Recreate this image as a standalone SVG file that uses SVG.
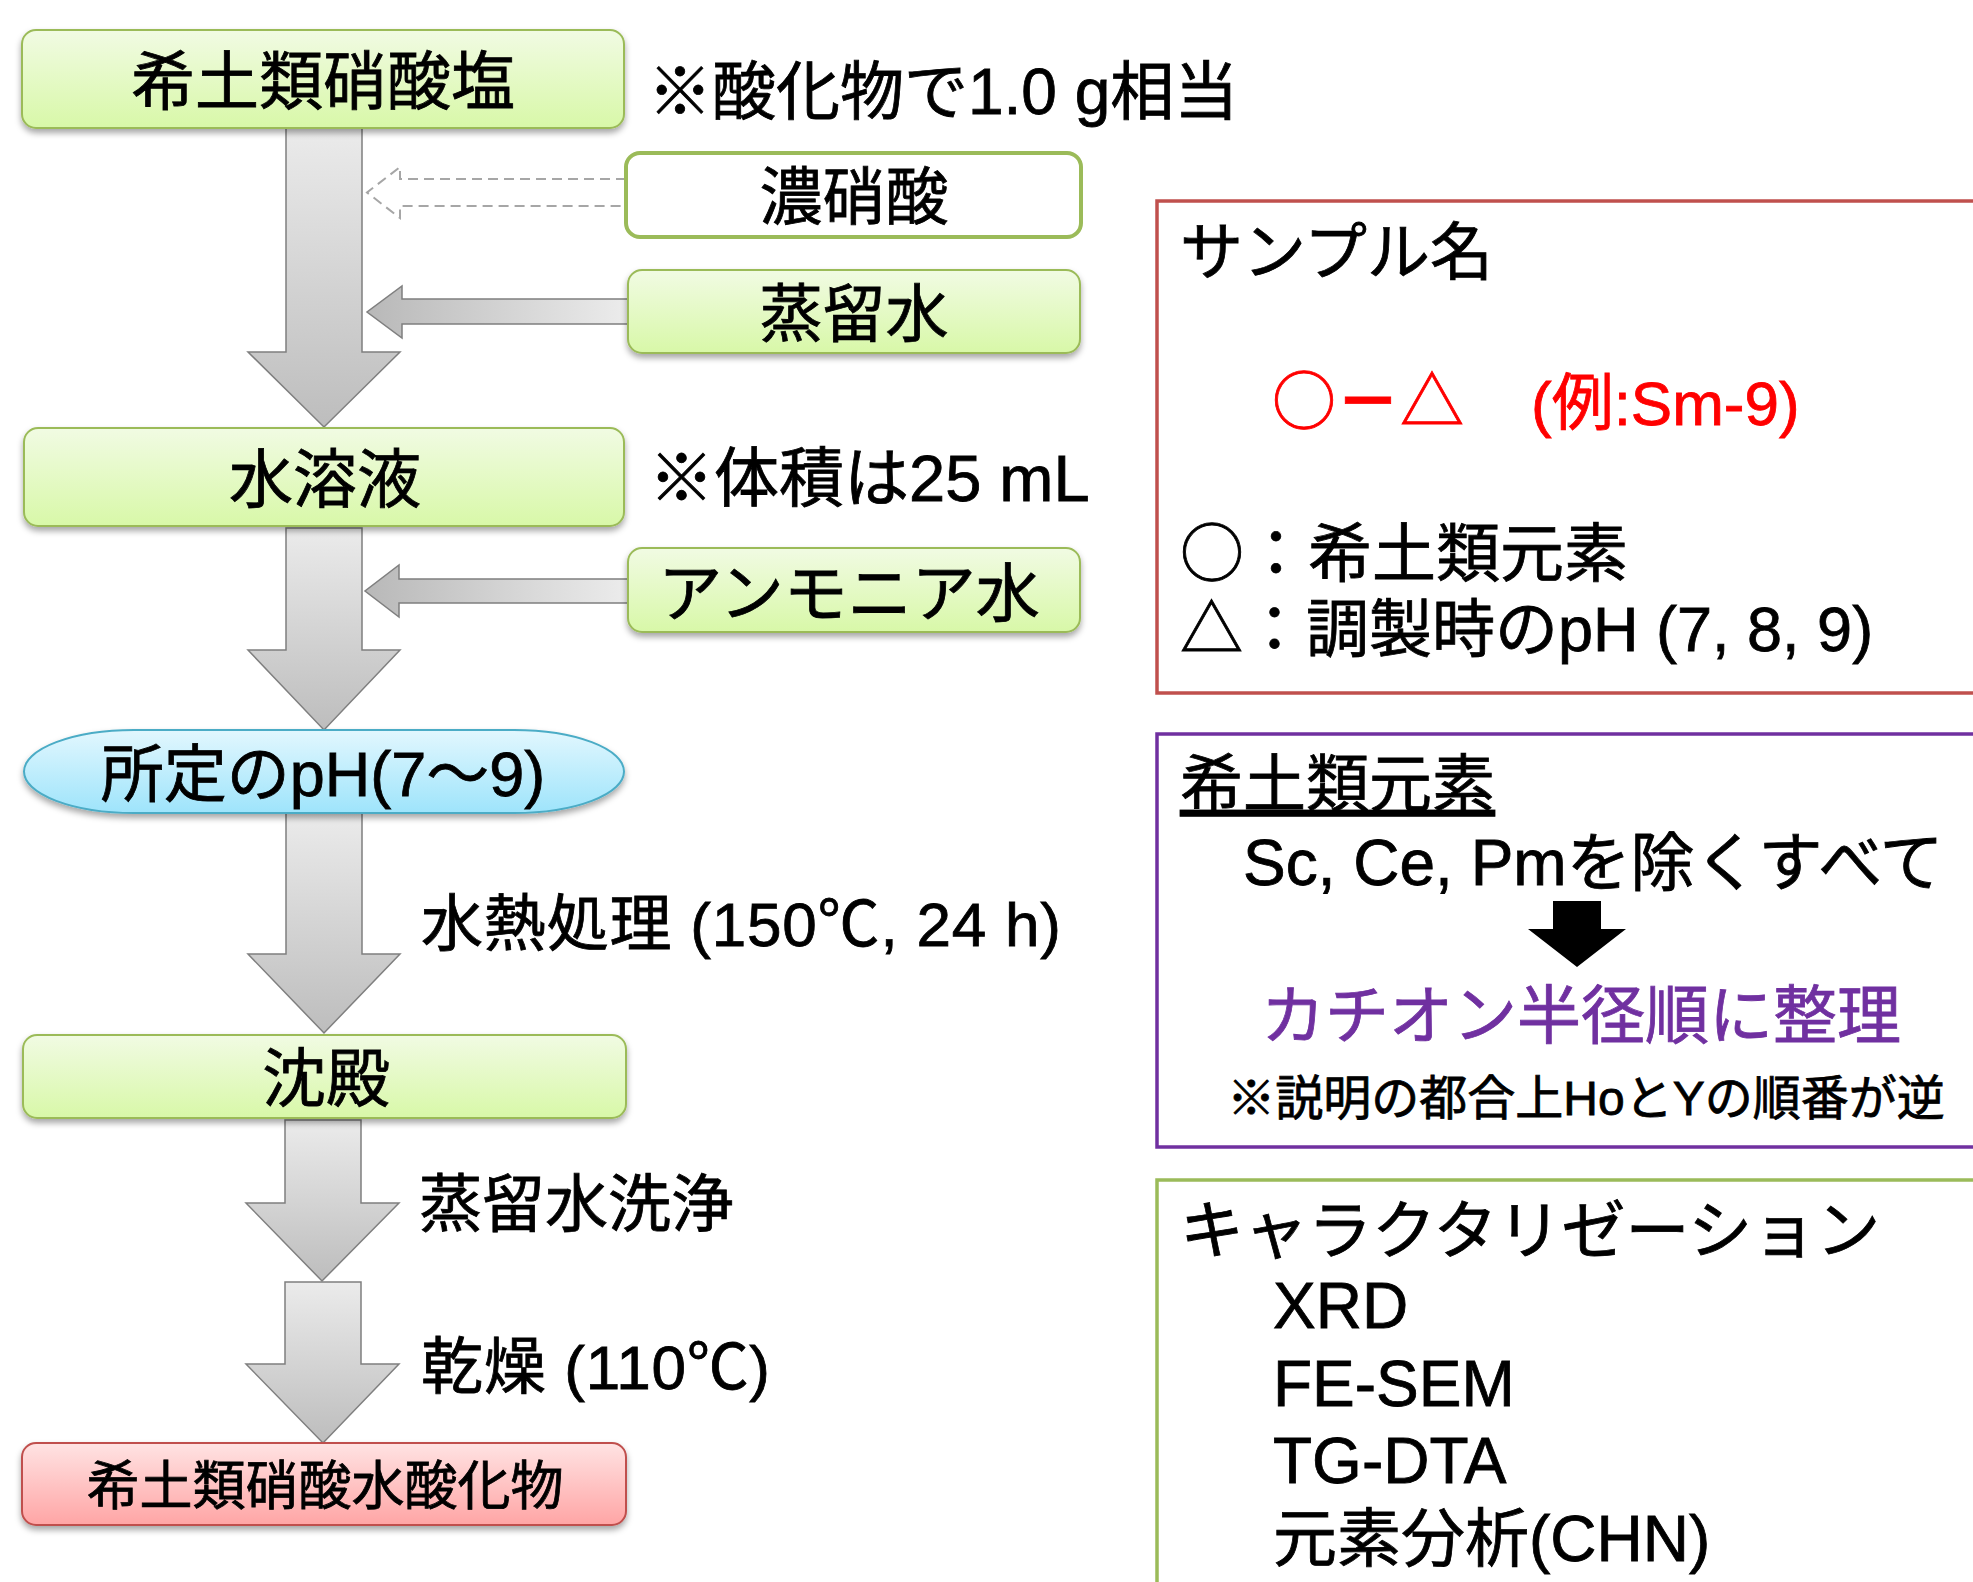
<svg xmlns="http://www.w3.org/2000/svg" width="1973" height="1582" viewBox="0 0 1973 1582">
<defs>
<linearGradient id="gGreen" x1="0" y1="0" x2="0" y2="1"><stop offset="0" stop-color="#f1fbe3"/><stop offset="1" stop-color="#d8f8a8"/></linearGradient>
<linearGradient id="gRed" x1="0" y1="0" x2="0" y2="1"><stop offset="0" stop-color="#ffe3e3"/><stop offset="1" stop-color="#ffa5a5"/></linearGradient>
<linearGradient id="gBlue" x1="0" y1="0" x2="0" y2="1"><stop offset="0" stop-color="#e2f7fe"/><stop offset="1" stop-color="#9ee4fb"/></linearGradient>
<linearGradient id="gDown" x1="0" y1="0" x2="0" y2="1"><stop offset="0" stop-color="#ebebeb"/><stop offset="1" stop-color="#bdbdbd"/></linearGradient>
<linearGradient id="gLeft" x1="0" y1="0" x2="1" y2="0"><stop offset="0" stop-color="#b8b8b8"/><stop offset="1" stop-color="#ececec"/></linearGradient>
<filter id="sh" x="-5%" y="-20%" width="110%" height="150%"><feDropShadow dx="0" dy="4" stdDeviation="3" flood-color="#000" flood-opacity="0.35"/></filter>
</defs>
<style>
text{font-family:"Liberation Sans","Noto Sans CJK JP",sans-serif;fill:#000;stroke:#000;stroke-width:0.8}
.cjk{font-family:"Noto Sans CJK JP",sans-serif}
.red{fill:#ff0000;stroke:#ff0000}
.pur{fill:#7030a0;stroke:#7030a0}
.box{fill:url(#gGreen);stroke:#9bbb59;stroke-width:2}
.c{text-anchor:middle}
.arr{fill:url(#gDown);stroke:#7f7f7f;stroke-width:1.5}
.harr{fill:url(#gLeft);stroke:#7f7f7f;stroke-width:1.5}
.panel{fill:none;stroke-width:3.5}
</style>
<rect width="1973" height="1582" fill="#fff"/>

<g id="connectors">
<path class="arr" d="M286,128 H362 V352 H400 L324,427 L248,352 H286 Z"/>
<path class="arr" d="M286,528 H362 V650 H400 L324,730 L248,650 H286 Z"/>
<path class="arr" d="M286,813 H362 V954 H400 L324,1033 L248,954 H286 Z"/>
<path class="arr" d="M285,1120 H361 V1203 H399 L322,1281 L246,1203 H285 Z"/>
<path class="arr" d="M285,1282 H361 V1364 H399 L323,1443 L246,1364 H285 Z"/>
<path d="M626,179 H400 V167 L367,192.5 L400,218 V206 H626" fill="#fff" stroke="#a6a6a6" stroke-width="2" stroke-dasharray="10,6"/>
<path class="harr" d="M628,299 H402 V286 L367,312 L402,338 V324 H628 Z"/>
<path class="harr" d="M628,579 H399 V565 L365,591 L399,617 V603 H628 Z"/>
</g>

<g id="node-nitrate">
<rect class="box" x="22" y="30" width="602" height="98" rx="14" filter="url(#sh)"/>
<text class="c" x="323" y="104" font-size="64">希土類硝酸塩</text>
</g>
<g id="note-oxide">
<text x="648" y="114" font-size="64">※酸化物で1.0 g相当</text>
</g>
<g id="node-conc-nitric">
<rect x="626" y="153" width="455" height="84" rx="14" fill="#fff" stroke="#9bbb59" stroke-width="4"/>
<text class="c" x="854" y="219" font-size="63">濃硝酸</text>
</g>
<g id="node-water1">
<rect class="box" x="628" y="270" width="452" height="83" rx="14" filter="url(#sh)"/>
<text class="c" x="854" y="336" font-size="63">蒸留水</text>
</g>
<g id="node-solution">
<rect class="box" x="24" y="428" width="600" height="98" rx="14" filter="url(#sh)"/>
<text class="c" x="325" y="502" font-size="64">水溶液</text>
</g>
<g id="note-volume">
<text x="649" y="501" font-size="65">※体積は25 mL</text>
</g>
<g id="node-ammonia">
<rect class="box" x="628" y="548" width="452" height="84" rx="14" filter="url(#sh)"/>
<text class="c" x="849" y="616" font-size="64">アンモニア水</text>
</g>
<g id="node-ph">
<rect x="24" y="730" width="600" height="83" rx="110" ry="41.5" fill="url(#gBlue)" stroke="#4bacc6" stroke-width="2" filter="url(#sh)"/>
<text class="c" x="323" y="796" font-size="63">所定のpH(7〜9)</text>
</g>
<g id="label-hydrothermal">
<text x="421" y="946" font-size="62" textLength="640" lengthAdjust="spacing">水熱処理 (150<tspan class="cjk">℃</tspan>, 24 h)</text>
</g>
<g id="node-precipitate">
<rect class="box" x="23" y="1035" width="603" height="83" rx="14" filter="url(#sh)"/>
<text class="c" x="326" y="1101" font-size="64">沈殿</text>
</g>
<g id="label-wash">
<text x="419" y="1226" font-size="63">蒸留水洗浄</text>
</g>
<g id="label-dry">
<text x="421" y="1389" font-size="62" textLength="349" lengthAdjust="spacing">乾燥 (110<tspan class="cjk">℃</tspan>)</text>
</g>
<g id="node-product">
<rect x="22" y="1443" width="604" height="82" rx="14" fill="url(#gRed)" stroke="#c0504d" stroke-width="2" filter="url(#sh)"/>
<text class="c" x="325" y="1505" font-size="53">希土類硝酸水酸化物</text>
</g>

<g id="panel-sample">
<rect class="panel" x="1157" y="201" width="840" height="492" stroke="#c0504d"/>
<text x="1180" y="274" font-size="63">サンプル名</text>
<text class="cjk red" y="424" font-size="64"><tspan x="1272">○</tspan><tspan x="1336" font-weight="bold">－</tspan><tspan x="1400">△</tspan></text>
<text class="red" x="1531" y="425" font-size="62">(例:Sm-9)</text>
<text x="1180" y="576" font-size="64"><tspan class="cjk">○：</tspan>希土類元素</text>
<text x="1180" y="651" font-size="63"><tspan class="cjk">△：</tspan>調製時のpH (7, 8, 9)</text>
</g>
<g id="panel-elements">
<rect class="panel" x="1157" y="734" width="840" height="413" stroke="#7030a0"/>
<text x="1180" y="806" font-size="63" text-decoration="underline">希土類元素</text>
<text x="1243" y="885" font-size="64">Sc, Ce, Pmを除くすべて</text>
<path d="M1553,901 H1601 V929 H1626 L1577,967 L1528,929 H1553 Z" fill="#000"/>
<text class="c pur" x="1581" y="1038" font-size="64">カチオン半径順に整理</text>
<text class="c" x="1586" y="1115" font-size="48">※説明の都合上HoとYの順番が逆</text>
</g>
<g id="panel-characterization">
<rect class="panel" x="1157" y="1180" width="840" height="440" stroke="#9bbb59"/>
<text x="1180" y="1253" font-size="64">キャラクタリゼーション</text>
<text x="1273" y="1328" font-size="64">XRD</text>
<text x="1273" y="1406" font-size="64">FE-SEM</text>
<text x="1273" y="1483" font-size="64">TG-DTA</text>
<text x="1273" y="1561" font-size="64">元素分析(CHN)</text>
</g>
</svg>
